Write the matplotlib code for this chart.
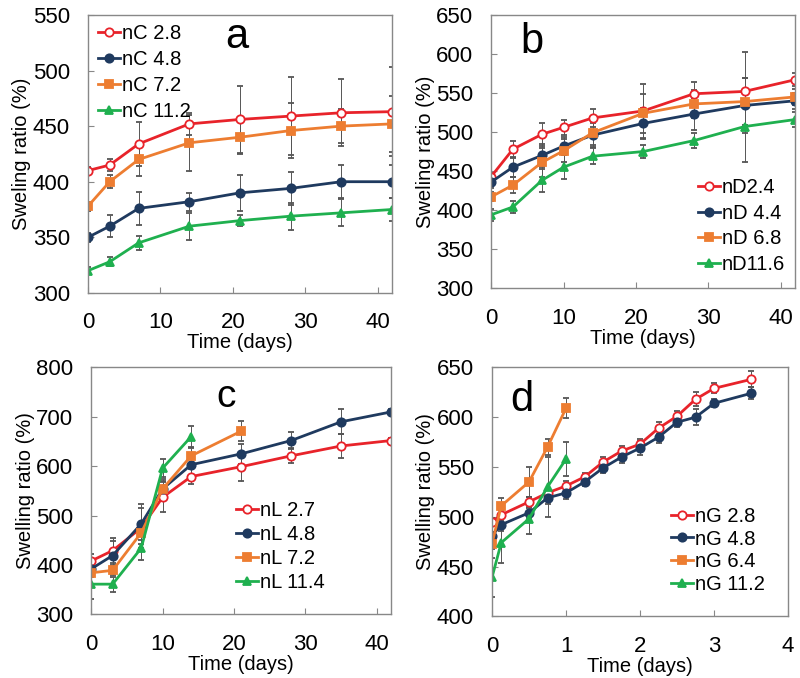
import numpy as np
import matplotlib.pyplot as plt

plt.rcParams['font.family'] = ['Liberation Sans', 'DejaVu Sans']

# Panel a
days_a = [0, 3, 7, 14, 21, 28, 35, 42]
nC28 = [410, 415, 434, 452, 456, 459, 462, 463]
nC48 = [350, 360, 376, 382, 390, 394, 400, 400]
nC72 = [378, 400, 420, 435, 440, 446, 450, 452]
nC112 = [320, 328, 345, 360, 365, 369, 372, 375]
err_nC28 = [3, 5, 20, 10, 30, 35, 30, 40]
err_nC48 = [4, 10, 15, 8, 16, 15, 15, 15]
err_nC72 = [4, 6, 15, 25, 15, 25, 15, 25]
err_nC112 = [3, 4, 6, 12, 5, 12, 12, 10]

# Panel b
days_b = [0, 3, 7, 10, 14, 21, 28, 35, 42]
nD24 = [443, 478, 497, 506, 518, 527, 549, 552, 567]
nD44 = [436, 455, 470, 482, 496, 511, 523, 534, 540]
nD68 = [417, 432, 461, 476, 499, 524, 536, 539, 545]
nD116 = [394, 404, 438, 455, 469, 475, 489, 507, 516]
err_nD24 = [5, 10, 15, 10, 12, 35, 15, 50, 8]
err_nD44 = [8, 12, 15, 12, 15, 20, 20, 35, 10]
err_nD68 = [6, 10, 18, 15, 15, 25, 18, 30, 10]
err_nD116 = [8, 8, 15, 15, 10, 8, 10, 45, 10]

# Panel c
days_c = [0, 3, 7, 10, 14, 21, 28, 35, 42]
nL27 = [408, 429, 475, 537, 579, 599, 621, 641, 652]
nL48 = [392, 419, 483, 554, 603, 625, 652, 690, 710]
days_c72 = [0, 3, 7, 10, 14, 21]
nL72 = [384, 389, 465, 554, 621, 671]
days_c114 = [0, 3, 7, 10, 14]
nL114 = [361, 361, 434, 596, 660]
err_nL27 = [15, 25, 40, 30, 15, 30, 15, 25, 5]
err_nL48 = [10, 30, 40, 20, 20, 20, 18, 25, 5]
err_nL72 = [8, 10, 15, 15, 15, 20]
err_nL114 = [30, 15, 25, 18, 22]

# Panel d
days_d = [0, 0.125, 0.5, 0.75, 1, 1.25, 1.5, 1.75, 2, 2.25, 2.5, 2.75, 3, 3.5]
nG28 = [495, 502, 515, 524, 531, 540, 555, 566, 573, 589, 601, 618, 629, 638]
nG48 = [481, 492, 504, 519, 524, 535, 549, 560, 569, 580, 595, 600, 614, 624]
days_d64 = [0, 0.125, 0.5, 0.75, 1]
nG64 = [473, 511, 535, 570, 609]
nG112 = [439, 474, 498, 530, 558]
err_nG28 = [4, 5, 5, 5, 5, 4, 5, 5, 5, 6, 5, 7, 5, 8]
err_nG48 = [4, 6, 5, 6, 6, 4, 5, 6, 7, 6, 5, 8, 4, 6]
err_nG64 = [5, 8, 15, 8, 10]
err_nG112 = [20, 20, 15, 30, 17]

RED = '#e8232a'
NAVY = '#1f3a5f'
ORANGE = '#ed7d31'
GREEN = '#1fb04f'
ECOL = '#555555'

fig = plt.figure(figsize=(8, 6.78), dpi=100)


def draw(ax, x, y, err, color, marker, label, mfc=None):
    c = ax.errorbar(x, y, yerr=err, color=color, lw=2, marker=marker, ms=6,
                    mfc=mfc if mfc else color, mec=color, mew=1.3,
                    ecolor=ECOL, elinewidth=0.7, capsize=2, capthick=0.7)
    # legend shows only the line + marker, no error bar
    c[0].set_label(label)
    return c[0]


def style(ax, xlim, ylim, yticks, xticks, ylabel, letter, lpos, lsize):
    ax.set_xlim(*xlim)
    ax.set_ylim(*ylim)
    ax.set_yticks(yticks)
    ax.set_xticks(xticks)
    ax.tick_params(direction='in', labelsize=16, length=4, color='#888888')
    ax.tick_params(axis='x', pad=14)
    ax.tick_params(axis='y', pad=13)
    for s in ax.spines.values():
        s.set_color('#888888')
        s.set_linewidth(1)
    ax.set_ylabel(ylabel, fontsize=14.5, labelpad=1)
    ax.set_xlabel('Time (days)', fontsize=14.5, labelpad=0)
    ax.text(lpos[0], lpos[1], letter, transform=ax.transAxes, fontsize=lsize,
            ha='center', va='center')


def legend(ax, handles, loc, anchor, spacing):
    ax.legend(handles=handles, loc=loc, frameon=False, fontsize=14.5,
              handlelength=1.1, handletextpad=0.1, labelspacing=spacing,
              borderaxespad=0.1, bbox_to_anchor=anchor)


# a
ax = fig.add_axes([0.11, 0.568, 0.38, 0.41])
h = [draw(ax, days_a, nC28, err_nC28, RED, 'o', 'nC 2.8', mfc='white'),
     draw(ax, days_a, nC48, err_nC48, NAVY, 'o', 'nC 4.8'),
     draw(ax, days_a, nC72, err_nC72, ORANGE, 's', 'nC 7.2'),
     draw(ax, days_a, nC112, err_nC112, GREEN, '^', 'nC 11.2')]
style(ax, (0, 42), (300, 550), range(300, 551, 50), range(0, 41, 10),
      'Sweling ratio (%)', 'a', (0.49, 0.92), 30)
legend(ax, h, 'upper left', (0.0, 1.005), 0.36)

# b
ax = fig.add_axes([0.614, 0.575, 0.38, 0.403])
h = [draw(ax, days_b, nD24, err_nD24, RED, 'o', 'nD2.4', mfc='white'),
     draw(ax, days_b, nD44, err_nD44, NAVY, 'o', 'nD 4.4'),
     draw(ax, days_b, nD68, err_nD68, ORANGE, 's', 'nD 6.8'),
     draw(ax, days_b, nD116, err_nD116, GREEN, '^', 'nD11.6')]
style(ax, (0, 42), (300, 650), range(300, 651, 50), range(0, 41, 10),
      'Sweling ratio (%)', 'b', (0.135, 0.9), 30)
legend(ax, h, 'lower right', (1.0, 0.015), 0.33)

# c
ax = fig.add_axes([0.114, 0.094, 0.375, 0.364])
h = [draw(ax, days_c, nL27, err_nL27, RED, 'o', 'nL 2.7', mfc='white'),
     draw(ax, days_c, nL48, err_nL48, NAVY, 'o', 'nL 4.8'),
     draw(ax, days_c72, nL72, err_nL72, ORANGE, 's', 'nL 7.2'),
     draw(ax, days_c114, nL114, err_nL114, GREEN, '^', 'nL 11.4')]
style(ax, (0, 42), (300, 800), range(300, 801, 100), range(0, 41, 10),
      'Swelling ratio (%)', 'c', (0.45, 0.88), 28)
legend(ax, h, 'lower left', (0.45, 0.05), 0.25)

# d
ax = fig.add_axes([0.615, 0.091, 0.37, 0.367])
h = [draw(ax, days_d, nG28, err_nG28, RED, 'o', 'nG 2.8', mfc='white'),
     draw(ax, days_d, nG48, err_nG48, NAVY, 'o', 'nG 4.8'),
     draw(ax, days_d64, nG64, err_nG64, ORANGE, 's', 'nG 6.4'),
     draw(ax, days_d64, nG112, err_nG112, GREEN, '^', 'nG 11.2')]
style(ax, (0, 4), (400, 650), range(400, 651, 50), range(0, 5, 1),
      'Swelling ratio (%)', 'd', (0.1, 0.87), 30)
legend(ax, h, 'lower left', (0.57, 0.05), 0.18)

fig.savefig('out.png', dpi=100)
